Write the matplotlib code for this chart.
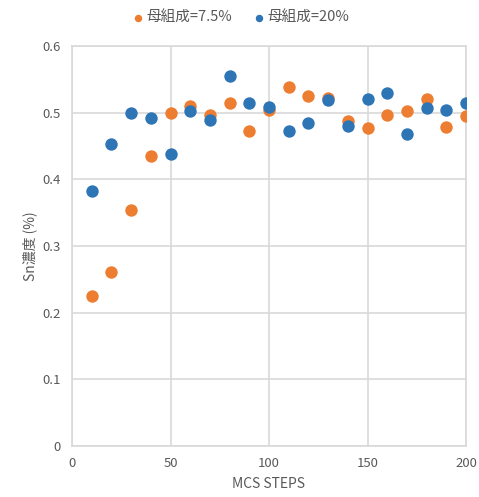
import matplotlib
matplotlib.use("Agg")
import matplotlib.pyplot as plt

plt.rcParams["font.family"] = ["Noto Sans CJK JP", "DejaVu Sans"]

steps = [10, 20, 30, 40, 50, 60, 70, 80, 90, 100,
         110, 120, 130, 140, 150, 160, 170, 180, 190, 200]
sn_75 = [0.225, 0.261, 0.354, 0.435, 0.500, 0.510, 0.497, 0.515, 0.472, 0.504,
         0.538, 0.525, 0.522, 0.487, 0.477, 0.497, 0.502, 0.521, 0.478, 0.495]
sn_20 = [0.382, 0.453, 0.500, 0.492, 0.438, 0.502, 0.489, 0.555, 0.515, 0.508,
         0.472, 0.484, 0.519, 0.480, 0.520, 0.530, 0.468, 0.507, 0.504, 0.515]
labels = ["母組成=7.5%", "母組成=20%"]
ORANGE = "#ED7D31"
BLUE = "#2E75B6"
GRID = "#d9d9d9"
TXT = "#595959"

fig = plt.figure(figsize=(4.79, 4.97), dpi=100)
ax = fig.add_axes([72 / 479, 1 - 446 / 497, (466 - 72) / 479, (446 - 46) / 497])

ax.scatter(steps, sn_75, s=80, color=ORANGE, label=labels[0], zorder=3, linewidths=0)
ax.scatter(steps, sn_20, s=80, color=BLUE, label=labels[1], zorder=3, linewidths=0)

ax.set_xlim(0, 200)
ax.set_ylim(0, 0.6)
ax.set_xticks([0, 50, 100, 150, 200])
ax.set_yticks([0, 0.1, 0.2, 0.3, 0.4, 0.5, 0.6])
ax.set_yticklabels(["0", "0.1", "0.2", "0.3", "0.4", "0.5", "0.6"])
ax.grid(True, color=GRID, linewidth=1.2, zorder=0)
ax.set_axisbelow(True)
for sp in ax.spines.values():
    sp.set_color(GRID)
    sp.set_linewidth(1.2)
ax.tick_params(length=0, colors=TXT, labelsize=9.5, pad=8)
ax.set_xlabel("MCS STEPS", color=TXT, fontsize=10, labelpad=5)
ax.set_ylabel("Sn濃度 (%)", color=TXT, fontsize=10, labelpad=4)

fig.legend(loc="upper center", bbox_to_anchor=(0.5, 1.005), ncol=2, frameon=False,
           fontsize=10.5, handletextpad=0.0, handlelength=1.2, columnspacing=1.2,
           markerscale=0.6, labelcolor=TXT)

fig.savefig("out.png", dpi=100)
